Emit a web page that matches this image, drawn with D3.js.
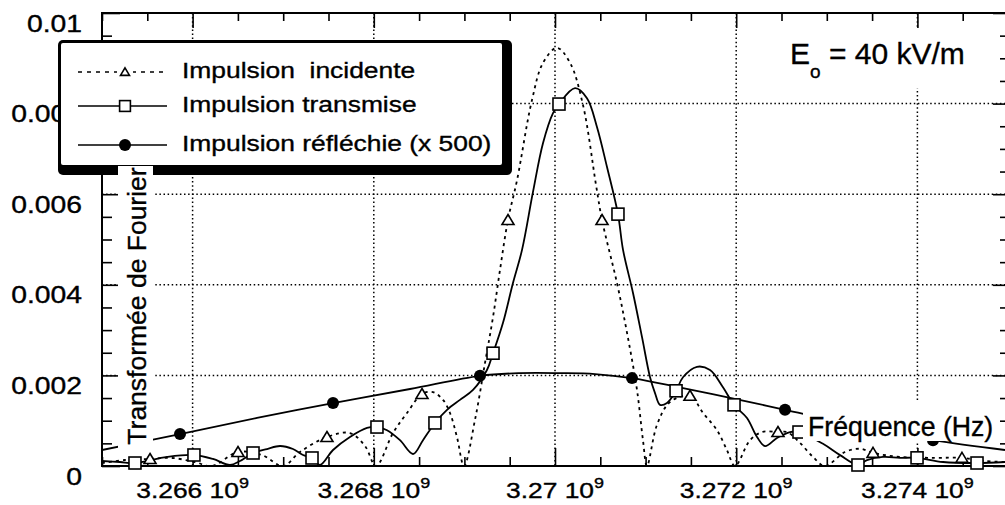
<!DOCTYPE html>
<html>
<head>
<meta charset="utf-8">
<script src="https://cdn.jsdelivr.net/npm/d3@7"></script>
<style>
  html, body { margin: 0; padding: 0; background: #fff; }
  svg { display: block; }
  text { stroke: #000; stroke-width: 0.35px; }
</style>
</head>
<body>
<svg id="chart" width="1005" height="505"></svg>
<script>
// Frequencies in GHz, spectrum magnitudes in arbitrary units.
const incidentFreq = [
  3.265000, 3.265254, 3.265530, 3.265773, 3.266026, 3.266214, 3.266501, 3.266766, 3.266998, 3.267185,
  3.267483, 3.267737, 3.267903, 3.268024, 3.268212, 3.268366, 3.268532, 3.268653, 3.268764, 3.268841,
  3.268918, 3.268996, 3.269117, 3.269227, 3.269316, 3.269393, 3.269481, 3.269581, 3.269746, 3.269868,
  3.270022, 3.270166, 3.270309, 3.270453, 3.270519, 3.270684, 3.270795, 3.270905, 3.270971, 3.271015,
  3.271126, 3.271269, 3.271490, 3.271634, 3.271788, 3.271898, 3.271987, 3.272152, 3.272285, 3.272461,
  3.272561, 3.272704, 3.272848, 3.272980, 3.273201, 3.273366, 3.273510, 3.273808, 3.274194, 3.274492,
  3.274746, 3.274967
];
const incidentVal = [
  0.000066, 0.000132, 0.000155, 0.000177, 0.000088, 0.0, 0.000309, 0.000243, 0.0, 0.000309,
  0.00064, 0.000728, 0.000442, 0.0, 0.000728, 0.00117, 0.00159, 0.00163, 0.00146, 0.00117,
  0.00064, 0.0, 0.00102, 0.00227, 0.00329, 0.00433, 0.00543, 0.00631, 0.00808, 0.00890,
  0.00923, 0.00890, 0.00797, 0.00620, 0.00543, 0.00404, 0.00294, 0.00168, 0.00057, 0.0,
  0.00091, 0.00141, 0.00155, 0.00117, 0.00079, 0.00035, 0.0, 0.00057, 0.00075, 0.00075,
  0.00075, 0.00051, 0.00020, 0.0, 0.00031, 0.00038, 0.00029, 0.00020, 0.00018, 0.00018,
  0.00011, 0.00009
];
const incidentMarks = [2, 6, 10, 16, 26, 34, 42, 49, 56, 59];

const transmittedFreq = [
  3.265000, 3.265199, 3.265364, 3.265717, 3.266015, 3.266225, 3.266413, 3.266523, 3.266667, 3.266821,
  3.266965, 3.267108, 3.267219, 3.267318, 3.267406, 3.267550, 3.267737, 3.267925, 3.268035, 3.268146,
  3.268289, 3.268433, 3.268543, 3.268675, 3.268808, 3.268951, 3.269095, 3.269249, 3.269316, 3.269426,
  3.269536, 3.269636, 3.269757, 3.269868, 3.269978, 3.270044, 3.270221, 3.270353, 3.270464, 3.270574,
  3.270695, 3.270751, 3.270861, 3.270960, 3.271049, 3.271104, 3.271159, 3.271236, 3.271336, 3.271413,
  3.271567, 3.271711, 3.271854, 3.271976, 3.272119, 3.272230, 3.272318, 3.272450, 3.272594, 3.272693,
  3.272958, 3.273146, 3.273344, 3.273444, 3.273620, 3.273808, 3.273996, 3.274283, 3.274658, 3.274967
];
const transmittedVal = [
  0.00011, 0.000088, 0.000066, 0.00020, 0.000243, 0.000155, 0.000022, 0.00011, 0.000287, 0.000375,
  0.000442, 0.000375, 0.000243, 0.000177, 0.000022, 0.000353, 0.00064, 0.00084, 0.00086, 0.00079,
  0.00057, 0.000265, 0.00057, 0.00095, 0.00124, 0.00146, 0.00168, 0.00212, 0.00249, 0.00316,
  0.00404, 0.00477, 0.00605, 0.00713, 0.00779, 0.00799, 0.00834, 0.00812, 0.00748, 0.00660,
  0.00556, 0.00477, 0.00382, 0.00285, 0.00196, 0.00161, 0.00135, 0.00139, 0.00166, 0.00196,
  0.00219, 0.00212, 0.00174, 0.00135, 0.00106, 0.00064, 0.00044, 0.00062, 0.00075, 0.00075,
  0.00049, 0.00024, 0.000022, 0.00013, 0.00020, 0.00018, 0.00018, 0.000088, 0.000066, 0.000088
];
const transmittedMarks = [2, 4, 8, 13, 18, 23, 28, 35, 40, 48, 53, 59, 62, 66, 68];

const reflectedFreq = [
  3.265000, 3.265861, 3.266711, 3.267550, 3.268400, 3.269172, 3.269614, 3.270055, 3.270442, 3.270850,
  3.271413, 3.272152, 3.272539, 3.273366, 3.274172, 3.274967
];
const reflectedVal = [
  0.000353, 0.000706, 0.00106, 0.00139, 0.00170, 0.00199, 0.00205, 0.00205, 0.00203, 0.00194,
  0.00172, 0.00141, 0.00124, 0.00088, 0.00057, 0.000353
];
const reflectedMarks = [1, 3, 5, 9, 12, 14];

const xTicks = [3.266, 3.268, 3.270, 3.272, 3.274];
const yTicks = [0, 0.002, 0.004, 0.006, 0.008, 0.010];
const xTickExponent = "9";
const legendLabels = ["Impulsion  incidente", "Impulsion transmise", "Impulsion réfléchie (x 500)"];
const xTitle = "Fréquence (Hz)";
const yTitle = "Transformée de Fourier";
const fieldLabel = { base: "E", sub: "o", rest: " = 40 kV/m" };

const FONT = '"Liberation Sans", Arial, Helvetica, sans-serif';
const svg = d3.select("#chart").style("font-family", FONT);

const x = d3.scaleLinear().domain([3.265, 3.275]).range([102, 1008]);
const y = d3.scaleLinear().domain([0, 0.010]).range([466, 13]);
const [xL, xR] = x.range();
const [yB, yT] = y.range();

svg.append("defs").append("clipPath").attr("id", "plotArea")
  .append("rect").attr("x", xL).attr("y", yT).attr("width", xR - xL).attr("height", yB - yT);

// Dotted grid at the labelled ticks
const grid = svg.append("g").attr("stroke", "#000").attr("stroke-width", 1.5)
  .attr("stroke-dasharray", "1.5,2.6").attr("fill", "none");
grid.selectAll("line.gx").data(xTicks).join("line").attr("class", "gx")
  .attr("x1", d => x(d)).attr("x2", d => x(d)).attr("y1", yT).attr("y2", yB);
grid.selectAll("line.gy").data(yTicks.filter(d => d > 0 && d < 0.010)).join("line").attr("class", "gy")
  .attr("y1", d => y(d)).attr("y2", d => y(d)).attr("x1", xL).attr("x2", xR);

// Inward ticks on all four sides
const xMinor = d3.range(0, 21).map(i => 3.265 + i * 0.0005).filter(v => !xTicks.some(t => Math.abs(t - v) < 1e-7));
const yMinor = d3.range(0, 21).map(i => i * 0.0005).filter(v => !yTicks.some(t => Math.abs(t - v) < 1e-9));
function ticks(axisFn, scale, values, size, transform) {
  svg.append("g").attr("transform", transform)
    .call(axisFn(scale).tickValues(values).tickSize(size).tickFormat(""))
    .call(g => g.select(".domain").remove())
    .selectAll("line").attr("stroke", "#000").attr("stroke-width", 1.6);
}
ticks(d3.axisBottom, x, xTicks, -18, `translate(0,${yB})`);
ticks(d3.axisBottom, x, xMinor, -9, `translate(0,${yB})`);
ticks(d3.axisTop, x, xTicks, -15, `translate(0,${yT})`);
ticks(d3.axisTop, x, xMinor, -8, `translate(0,${yT})`);
ticks(d3.axisLeft, y, yTicks, -18, `translate(${xL},0)`);
ticks(d3.axisLeft, y, yMinor, -10, `translate(${xL},0)`);
ticks(d3.axisRight, y, yTicks, -15, `translate(${xR},0)`);
ticks(d3.axisRight, y, yMinor, -8, `translate(${xR},0)`);

svg.append("rect").attr("x", xL).attr("y", yT).attr("width", xR - xL).attr("height", yB - yT)
  .attr("fill", "none").attr("stroke", "#000").attr("stroke-width", 2);

// Curves
const series = [
  { freq: reflectedFreq, val: reflectedVal, marks: reflectedMarks, dash: null, marker: "circle" },
  { freq: transmittedFreq, val: transmittedVal, marks: transmittedMarks, dash: null, marker: "square" },
  { freq: incidentFreq, val: incidentVal, marks: incidentMarks, dash: "3,4", marker: "triangle" }
];
const line = d3.line().x(d => x(d[0])).y(d => y(d[1])).curve(d3.curveCatmullRom.alpha(0.5));
const plot = svg.append("g").attr("clip-path", "url(#plotArea)");
series.forEach(s => {
  plot.append("path").datum(d3.zip(s.freq, s.val)).attr("d", line)
    .attr("fill", "none").attr("stroke", "#000").attr("stroke-width", 1.8)
    .attr("stroke-dasharray", s.dash);
});

function drawMarker(g, kind, scale) {
  const k = scale || 1;
  if (kind === "circle") {
    g.append("circle").attr("r", 6 * k).attr("fill", "#000");
  } else if (kind === "square") {
    g.append("rect").attr("x", -6 * k).attr("y", -6 * k).attr("width", 12 * k).attr("height", 12 * k)
      .attr("fill", "#fff").attr("stroke", "#000").attr("stroke-width", 1.6);
  } else {
    g.append("path").attr("d", `M0,${-5.5 * k}L${6 * k},${4.5 * k}L${-6 * k},${4.5 * k}Z`)
      .attr("fill", "#fff").attr("stroke", "#000").attr("stroke-width", 1.6);
  }
}
series.forEach(s => {
  s.marks.forEach(i => {
    const g = svg.append("g").attr("transform", `translate(${x(s.freq[i])},${y(s.val[i])})`);
    drawMarker(g, s.marker);
  });
});

// Tick labels
const fmt = d3.format(".3~f");
yTicks.forEach(v => {
  svg.append("g").attr("transform", `translate(82,${y(v) + 18.5}) scale(1.18,1)`)
    .append("text").attr("text-anchor", "end").attr("font-size", 24).text(fmt(v));
});
xTicks.forEach(v => {
  const t = svg.append("g").attr("transform", `translate(${x(v)},498) scale(1.2,1)`)
    .append("text").attr("text-anchor", "middle").attr("font-size", 22)
    .style("white-space", "pre");
  t.append("tspan").text(fmt(v) + " 10");
  t.append("tspan").attr("dy", -10).attr("font-size", 15).text(xTickExponent);
});

// Legend with drop shadow frame
const lg = svg.append("g");
lg.append("rect").attr("x", 58).attr("y", 40).attr("width", 454).attr("height", 135).attr("rx", 5).attr("fill", "#000");
lg.append("rect").attr("x", 61).attr("y", 43).attr("width", 441).attr("height", 122).attr("rx", 2).attr("fill", "#fff");
const legendRows = [72, 106, 145];
const legendSeries = [series[2], series[1], series[0]];
legendSeries.forEach((s, i) => {
  const ry = legendRows[i];
  lg.append("line").attr("x1", 78).attr("x2", 167).attr("y1", ry).attr("y2", ry)
    .attr("stroke", "#000").attr("stroke-width", 1.6).attr("stroke-dasharray", s.dash ? "4,5" : null);
  const m = lg.append("g").attr("transform", `translate(125,${ry})`);
  if (s.marker === "triangle") m.append("rect").attr("x", -8).attr("y", -6).attr("width", 16).attr("height", 12).attr("fill", "#fff");
  drawMarker(m, s.marker, s.marker === "triangle" ? 0.75 : (s.marker === "square" ? 0.9 : 1));
  lg.append("g").attr("transform", `translate(182,${ry + 6}) scale(1.2,1)`)
    .append("text").attr("font-size", 22).style("white-space", "pre").text(legendLabels[i]);
});

// Field amplitude annotation
svg.append("rect").attr("x", 775).attr("y", 28).attr("width", 215).attr("height", 60).attr("fill", "#fff");
const ft = svg.append("g").attr("transform", "translate(790,64)")
  .append("text").attr("font-size", 30).style("white-space", "pre");
ft.append("tspan").text(fieldLabel.base);
ft.append("tspan").attr("dy", 14).attr("font-size", 19).text(fieldLabel.sub);
ft.append("tspan").attr("dy", -14).text(fieldLabel.rest);

// Axis titles on white boxes inside the frame
svg.append("rect").attr("x", 803).attr("y", 402).attr("width", 194).attr("height", 39).attr("fill", "#fff");
svg.append("g").attr("transform", "translate(808,436) scale(0.97,1)")
  .append("text").attr("font-size", 27.5).text(xTitle);

svg.append("rect").attr("x", 118).attr("y", 166).attr("width", 35).attr("height", 282).attr("fill", "#fff");
svg.append("g").attr("transform", "translate(146,306) rotate(-90) scale(1.06,1)")
  .append("text").attr("text-anchor", "middle").attr("font-size", 25).text(yTitle);
</script>
</body>
</html>
